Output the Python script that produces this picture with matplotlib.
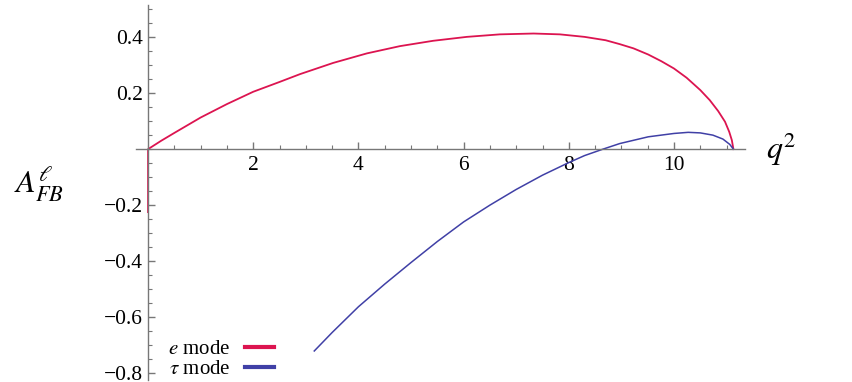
import numpy as np
import matplotlib
matplotlib.use("Agg")
import matplotlib.pyplot as plt
from matplotlib.ticker import MultipleLocator

plt.rcParams["font.family"] = ["Liberation Serif", "DejaVu Serif"]
plt.rcParams["mathtext.fontset"] = "stix"

# e mode: forward-backward asymmetry vs q^2
q2_e = [0.0, 0.0, 0.25, 0.5, 1.0, 1.5, 2.0, 2.5, 2.89, 3.52, 4.16, 4.79,
        5.42, 6.06, 6.69, 7.33, 7.83, 8.3, 8.7, 8.97, 9.23, 9.51, 9.76,
        10.0, 10.24, 10.5, 10.68, 10.84, 10.97, 11.05, 11.1, 11.13]
afb_e = [-0.225, 0.0, 0.03, 0.058, 0.113, 0.161, 0.205, 0.24, 0.268, 0.308,
         0.342, 0.368, 0.387, 0.401, 0.41, 0.413, 0.41, 0.401, 0.389, 0.375,
         0.36, 0.338, 0.314, 0.288, 0.255, 0.211, 0.175, 0.136, 0.098, 0.062,
         0.032, 0.0]

# tau mode
q2_tau = [3.16, 3.5, 4.0, 4.5, 5.0, 5.5, 6.0, 6.5, 7.0, 7.5, 8.0, 8.3, 8.65,
          8.97, 9.51, 10.0, 10.27, 10.5, 10.74, 10.93, 11.06, 11.13]
afb_tau = [-0.721, -0.655, -0.563, -0.482, -0.405, -0.33, -0.26, -0.2, -0.144,
           -0.093, -0.048, -0.023, 0.0, 0.02, 0.044, 0.056, 0.06, 0.058,
           0.05, 0.036, 0.017, 0.0]

xticks = [2, 4, 6, 8, 10]
xtick_labels = ["2", "4", "6", "8", "10"]
yticks = [-0.8, -0.6, -0.4, -0.2, 0.2, 0.4]
ytick_labels = ["\u22120.8", "\u22120.6", "\u22120.4", "\u22120.2", "0.2", "0.4"]

red = "#DC1450"
blue = "#4040A6"
axis_gray = "#777777"

fig = plt.figure(figsize=(8.52, 3.82), dpi=100)
ax = fig.add_axes([0.1596, 0.005, 0.7148, 0.982])

ax.plot(q2_e, afb_e, color=red, lw=1.3, label=r"$e$ mode")
ax.plot(q2_tau, afb_tau, color=blue, lw=1.1, label=r"$\tau$ mode")

ax.set_xlim(-0.23, 11.35)
ax.set_ylim(-0.825, 0.515)

for s in ["top", "right"]:
    ax.spines[s].set_visible(False)
ax.spines["left"].set_position(("data", 0))
ax.spines["bottom"].set_position(("data", 0))
for s in ["left", "bottom"]:
    ax.spines[s].set_color(axis_gray)
    ax.spines[s].set_linewidth(1.0)

tick_font = dict(fontsize=15.5, family=["Liberation Serif", "DejaVu Serif"])
ax.set_xticks(xticks, xtick_labels, **tick_font)
ax.set_yticks(yticks, ytick_labels, **tick_font)
ax.xaxis.set_minor_locator(MultipleLocator(0.5))
ax.yaxis.set_minor_locator(MultipleLocator(0.05))

ax.tick_params(which="both", direction="in", color=axis_gray)
ax.tick_params(which="major", length=5, width=1.0)
ax.tick_params(which="minor", length=3, width=0.8)
ax.tick_params(axis="x", pad=5)
ax.tick_params(axis="y", pad=4)

ax.text(1.035, 0.616, r"$q^2$", transform=ax.transAxes, fontsize=23,
        ha="left", va="center")
fig.text(0.016, 0.52, r"$A^{\ell}_{FB}$", fontsize=23, ha="left", va="center")

leg = ax.legend(loc="lower left", bbox_to_anchor=(0.183, -0.026),
                bbox_transform=fig.transFigure, frameon=False,
                markerfirst=False, fontsize=15, handlelength=1.4,
                handletextpad=0.7, labelspacing=0.05, borderpad=0.1)
for line in leg.get_lines():
    line.set_linewidth(3)

fig.savefig("out.png", dpi=100)
